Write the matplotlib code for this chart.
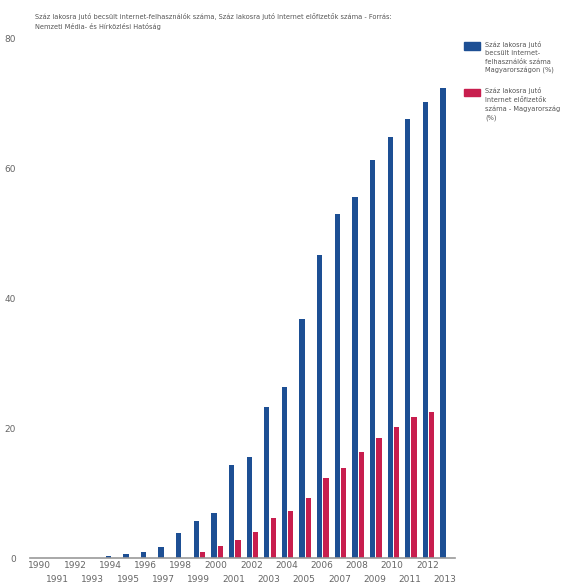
import matplotlib
matplotlib.use('Agg')
import matplotlib.pyplot as plt
from matplotlib.patches import Rectangle

years = list(range(1990, 2014))
internet_users = [0, 0, 0, 0.05, 0.3, 0.6, 0.9, 1.7, 3.8, 5.7, 7.0, 14.3, 15.6, 23.3,
                  26.3, 36.8, 46.7, 52.9, 55.6, 61.3, 64.8, 67.5, 70.2, 72.4]
subscriptions = [0, 0, 0, 0, 0, 0, 0, 0, 0, 1.0, 1.9, 2.8, 4.0, 6.1,
                 7.2, 9.2, 12.3, 13.9, 16.3, 18.4, 20.2, 21.7, 22.5, None]

title = ('Száz lakosra jutó becsült internet-felhasználók száma, Száz lakosra jutó '
         'Internet előfizetők száma - Forrás:\nNemzeti Média- és Hírközlési Hatóság')
label_users = 'Száz lakosra jutó\nbecsült internet-\nfelhasználók száma\nMagyarországon (%)'
label_subs = 'Száz lakosra jutó\nInternet előfizetők\nszáma - Magyarország\n(%)'

blue = '#1d4f94'
red = '#c81e4e'
grey = '#666666'

fig = plt.figure(figsize=(5.74, 5.88), dpi=100)
ax = fig.add_axes([0.052, 0.051, 0.741, 0.884])

x_sub = [y for y, v in zip(years, subscriptions) if v is not None]
v_sub = [v for v in subscriptions if v is not None]
ax.bar([y - 0.12 for y in years], internet_users, width=0.3, color=blue)
ax.bar([y + 0.24 for y in x_sub], v_sub, width=0.3, color=red)

ax.set_xlim(1989.43, 2013.57)
ax.set_ylim(0, 80)
ax.set_yticks([0, 20, 40, 60, 80])
even = [y for y in years if y % 2 == 0]
odd = [y for y in years if y % 2 == 1]
ax.set_xticks(even)
ax.set_xticklabels([str(y) for y in even])
ax.set_xticks(odd, minor=True)
ax.set_xticklabels([str(y) for y in odd], minor=True)
ax.tick_params(axis='x', which='major', length=0, labelsize=6.5, colors=grey, pad=2)
ax.tick_params(axis='x', which='minor', length=0, labelsize=6.5, colors=grey, pad=12)
ax.tick_params(axis='y', length=0, labelsize=6.5, colors=grey, pad=10)
for s in ['top', 'right', 'left']:
    ax.spines[s].set_visible(False)
ax.spines['bottom'].set_color('#999999')
ax.spines['bottom'].set_linewidth(1.2)

fig.text(0.061, 0.978, title, fontsize=4.8, color='#555555', va='top', ha='left',
         linespacing=1.5)

# legend
fig.patches.append(Rectangle((0.808, 0.915), 0.028, 0.013, transform=fig.transFigure,
                             color=blue))
fig.text(0.845, 0.931, label_users, fontsize=4.8, color='#555555', va='top',
         linespacing=1.5)
fig.patches.append(Rectangle((0.808, 0.836), 0.028, 0.013, transform=fig.transFigure,
                             color=red))
fig.text(0.845, 0.852, label_subs, fontsize=4.8, color='#555555', va='top',
         linespacing=1.5)

fig.savefig('out.png', dpi=100)
